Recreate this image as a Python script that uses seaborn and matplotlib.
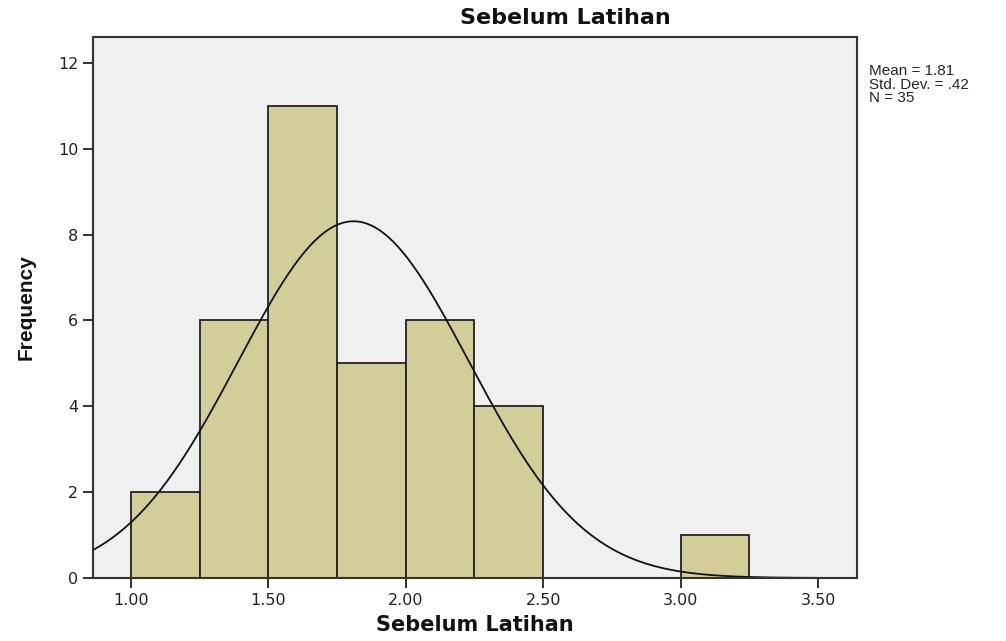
import numpy as np
import matplotlib
matplotlib.use("Agg")
import matplotlib.pyplot as plt
import seaborn as sns

# histogram bins (SPSS output) and summary stats
bin_edges = [1.00, 1.25, 1.50, 1.75, 2.00, 2.25, 2.50, 2.75, 3.00, 3.25]
counts = [2, 6, 11, 5, 6, 4, 0, 0, 1]
mean, std_dev, n = 1.81, 0.42, 35
x_ticks = [1.00, 1.50, 2.00, 2.50, 3.00, 3.50]
y_ticks = [0, 2, 4, 6, 8, 10, 12]

sns.set_style("ticks")
plt.rcParams['font.family'] = ['Liberation Sans', 'DejaVu Sans']

fig = plt.figure(figsize=(10.06, 6.41), dpi=100)
ax = fig.add_axes([0.0924, 0.0983, 0.7596, 0.8437])
ax.set_facecolor("#f0f0f0")

bin_left = bin_edges[:-1]
sns.histplot(x=bin_left, weights=counts, bins=bin_edges, ax=ax,
             color="#d3ce98", alpha=1, edgecolor="#222222", linewidth=1.3)

# normal curve scaled to counts
xs = np.linspace(0.862, 3.642, 400)
width = bin_edges[1] - bin_edges[0]
ys = n * width / (std_dev * np.sqrt(2 * np.pi)) * np.exp(-0.5 * ((xs - mean) / std_dev) ** 2)
ax.plot(xs, ys, color="#111111", linewidth=1.3)

ax.set_xlim(0.862, 3.642)
ax.set_ylim(0, 12.6)
ax.set_xticks(x_ticks)
ax.set_xticklabels([f"{t:.2f}" for t in x_ticks])
ax.set_yticks(y_ticks)
ax.tick_params(axis="both", direction="out", length=7, width=1.3,
               labelsize=11.5, colors="#222222")
for lbl in ax.get_xticklabels() + ax.get_yticklabels():
    lbl.set_family("DejaVu Sans")
for sp in ax.spines.values():
    sp.set_visible(True)
    sp.set_color("#333333")
    sp.set_linewidth(1.5)

fig.text(0.5616, 0.972, "Sebelum Latihan", fontsize=16, fontweight="bold",
         family="DejaVu Sans", ha="center", va="center", color="#111111")
ax.set_xlabel("Sebelum Latihan", fontsize=15, fontweight="bold",
              family="DejaVu Sans", labelpad=5, color="#111111")
ax.set_ylabel("Frequency", fontsize=15, fontweight="bold", labelpad=16,
              color="#111111")

fig.text(0.864, 0.900, f"Mean = {mean:.2f}\nStd. Dev. = .42\nN = {n}",
         fontsize=11, va="top", ha="left", linespacing=0.95)

fig.savefig("out.png", dpi=100)
